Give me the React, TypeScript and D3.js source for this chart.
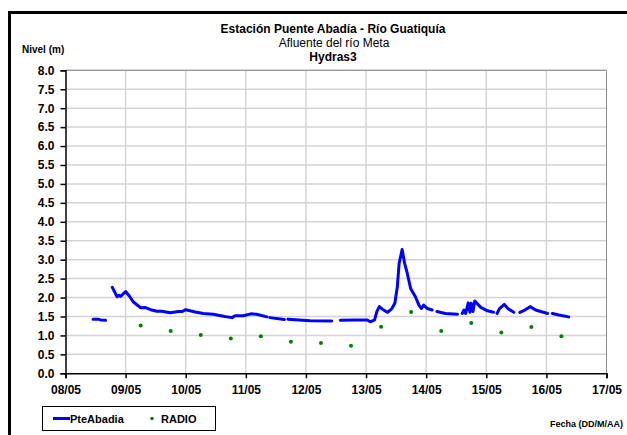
import React, { useEffect, useRef } from "react";
import * as d3 from "d3";

// Hours since 08/05 00:00 for the PteAbadia level series; null = gap
const levelHours: number[] = [
  11, 13, 14, 16, -1,
  18.7, 20.6, 21.4, 22, 24, 25.5, 27, 30, 31.7, 34, 36.5, 38.4, 41.8, 45, 46.5, 48, 51.8, 55, 59, 63.6, 66.5, 67.7, 71, 74, 76.3, 80.4, -1,
  81.6, 87.4, -1,
  88.8, 97.7, 106.3, -1,
  109.7, 115.7, 120.5, 121.7, 123.4, 124.3, 125.3, 127, 128.6, 130.3, 131.5, 132.5, 133.2, 134.4, 135.4, 136.3, 137.8, 139.7, 141.1, 142.1, 143, 144.5, 146.4, -1,
  148.3, 151.7, 156.5, -1,
  158.4, 159.1, 159.8, 160.8, 161.5, 162, 162.7, 163.4, 165.8, 168.5, 170.9, -1,
  172.3, 173.3, 175.2, 176.6, 179, -1,
  181.4, 183.4, 185.5, 187.7, 192.5, -1,
  194.4, 197, 200.9,
];
const levelValues: (number | null)[] = [
  1.43, 1.43, 1.41, 1.4, null,
  2.27, 2.02, 2.06, 2.03, 2.16, 2.04, 1.89, 1.73, 1.74, 1.68, 1.64, 1.64, 1.6, 1.63, 1.63, 1.68, 1.62, 1.58, 1.56, 1.5, 1.47, 1.52, 1.52, 1.57, 1.56, 1.49, null,
  1.47, 1.42, null,
  1.43, 1.39, 1.38, null,
  1.4, 1.41, 1.41, 1.36, 1.41, 1.63, 1.76, 1.67, 1.61, 1.71, 1.85, 2.29, 2.9, 3.27, 2.9, 2.68, 2.24, 2.02, 1.8, 1.71, 1.8, 1.71, 1.67, null,
  1.63, 1.58, 1.56, null,
  1.58, 1.67, 1.58, 1.86, 1.61, 1.85, 1.63, 1.91, 1.74, 1.65, 1.61, null,
  1.58, 1.71, 1.82, 1.71, 1.61, null,
  1.61, 1.67, 1.76, 1.67, 1.58, null,
  1.58, 1.54, 1.49,
];

// RADIO readings (hours since 08/05 00:00)
const radioHours: number[] = [30, 42, 54, 66, 78, 90, 102, 114, 126, 138, 150, 162, 174, 186, 198];
const radioValues: number[] = [1.26, 1.12, 1.01, 0.92, 0.98, 0.83, 0.8, 0.73, 1.23, 1.62, 1.12, 1.33, 1.08, 1.22, 0.98];

const xTickLabels: string[] = ["08/05", "09/05", "10/05", "11/05", "12/05", "13/05", "14/05", "15/05", "16/05", "17/05"];
const yTicks: number[] = d3.range(0, 8.01, 0.5);

const titleLines: string[] = ["Estación Puente Abadía  - Río Guatiquía", "Afluente del río Meta", "Hydras3"];
const seriesNames: string[] = ["PteAbadia", "RADIO"];

export default function App() {
  const ref = useRef<SVGSVGElement>(null);

  useEffect(() => {
    const svg = d3.select(ref.current);
    svg.selectAll("*").remove();
    const W = 627, H = 435;
    const left = 65.5, right = 606.5, top = 70.3, bottom = 373.3;
    const font = "Liberation Sans, Arial, sans-serif";

    const x = d3.scaleLinear().domain([0, 216]).range([left, right]);
    const y = d3.scaleLinear().domain([0, 8]).range([bottom, top]);

    svg.append("rect").attr("width", W).attr("height", H).attr("fill", "#fff");
    // outer frame
    svg.append("rect").attr("x", 9.5).attr("y", 12.5).attr("width", 800).attr("height", 800)
      .attr("fill", "none").attr("stroke", "#000").attr("stroke-width", 3);

    // titles
    const t = svg.append("g").attr("font-family", font).attr("text-anchor", "middle").attr("fill", "#000");
    t.append("text").attr("x", 333).attr("y", 33).attr("font-size", 12).attr("font-weight", "bold").text(titleLines[0]);
    t.append("text").attr("x", 334).attr("y", 47).attr("font-size", 12).text(titleLines[1]);
    t.append("text").attr("x", 333).attr("y", 61).attr("font-size", 12).attr("font-weight", "bold").text(titleLines[2]);
    svg.append("text").attr("x", 22).attr("y", 53).attr("font-family", font).attr("font-size", 10)
      .attr("font-weight", "bold").text("Nivel (m)");

    // grid
    const g = svg.append("g");
    g.selectAll("line.h").data(yTicks.filter(v => v > 0)).join("line")
      .attr("x1", left).attr("x2", right).attr("y1", d => y(d)).attr("y2", d => y(d))
      .attr("stroke", "#d4d4d4").attr("stroke-width", 1.5);
    g.selectAll("line.v").data(d3.range(1, 9)).join("line")
      .attr("x1", d => x(d * 24)).attr("x2", d => x(d * 24)).attr("y1", top).attr("y2", bottom)
      .attr("stroke", "#d4d4d4").attr("stroke-width", 1.5);
    // plot border (top, right)
    svg.append("path").attr("d", `M${left},${top}H${right}V${bottom}`).attr("fill", "none")
      .attr("stroke", "#8c8c8c").attr("stroke-width", 1);

    // axes
    const yAxis = d3.axisLeft(y).tickValues(yTicks).tickFormat(d3.format(".1f")).tickSize(5).tickPadding(6);
    const ya = svg.append("g").attr("transform", `translate(${left},0)`).call(yAxis);
    const xAxis = d3.axisBottom(x).tickValues(d3.range(0, 10).map(d => d * 24))
      .tickFormat((d, i) => xTickLabels[i]).tickSize(5).tickPadding(7);
    const xa = svg.append("g").attr("transform", `translate(0,${bottom})`).call(xAxis);
    [ya, xa].forEach(a => {
      a.select(".domain").attr("stroke", "#000").attr("stroke-width", 1.5);
      a.selectAll(".tick line").attr("stroke", "#000").attr("stroke-width", 1.5);
      a.selectAll("text").attr("font-family", font).attr("font-size", 12).attr("font-weight", "bold").attr("fill", "#000");
    });

    // level line
    const pts = levelHours.map((h, i) => [h, levelValues[i]] as [number, number | null]);
    const line = d3.line<[number, number | null]>()
      .defined(d => d[1] !== null)
      .x(d => x(d[0])).y(d => y(d[1] as number))
      .curve(d3.curveLinear);
    svg.append("path").datum(pts).attr("d", line).attr("fill", "none")
      .attr("stroke", "#0000ff").attr("stroke-width", 3).attr("stroke-linejoin", "round").attr("stroke-linecap", "round");

    // radio points
    svg.selectAll("circle.r").data(radioHours).join("circle")
      .attr("cx", d => x(d)).attr("cy", (d, i) => y(radioValues[i])).attr("r", 2)
      .attr("fill", "#008000");

    // legend
    const lg = svg.append("g").attr("font-family", font).attr("font-size", 11).attr("font-weight", "bold");
    lg.append("rect").attr("x", 42.5).attr("y", 406.5).attr("width", 173).attr("height", 24)
      .attr("fill", "#fff").attr("stroke", "#000").attr("stroke-width", 1);
    lg.append("line").attr("x1", 53).attr("x2", 70).attr("y1", 418.5).attr("y2", 418.5)
      .attr("stroke", "#0000ff").attr("stroke-width", 3);
    lg.append("text").attr("x", 70).attr("y", 422.5).text(seriesNames[0]);
    lg.append("circle").attr("cx", 152).attr("cy", 418.5).attr("r", 1.8).attr("fill", "#008000");
    lg.append("text").attr("x", 161).attr("y", 422.5).text(seriesNames[1]);

    svg.append("text").attr("x", 623).attr("y", 427).attr("text-anchor", "end").attr("font-family", font)
      .attr("font-size", 9).attr("font-weight", "bold").text("Fecha (DD/M/AA)");
  }, []);

  return (
    <svg ref={ref} width={627} height={435}
      style={{ position: "absolute", left: 0, top: 0, display: "block" }} />
  );
}
